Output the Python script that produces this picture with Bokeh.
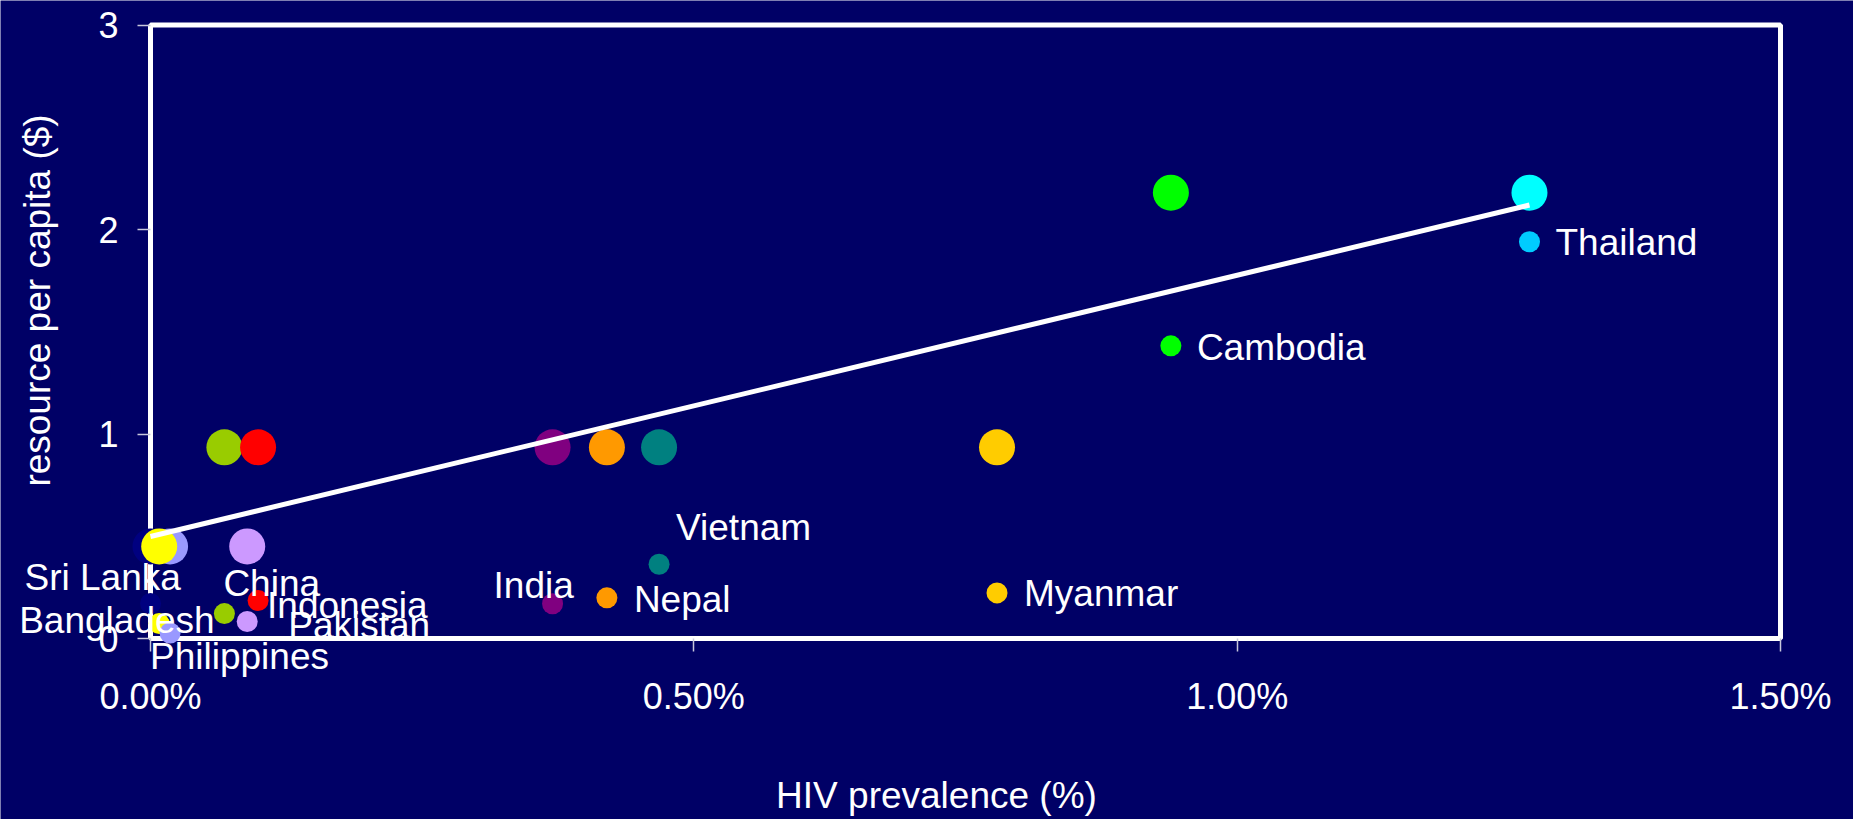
import math

import numpy as np
from bokeh.core.properties import value
from bokeh.embed import file_html
from bokeh.models import (ColumnDataSource, FixedTicker, LabelSet,
                          PrintfTickFormatter, Range1d)
from bokeh.plotting import figure
from bokeh.resources import INLINE

# --- data -------------------------------------------------------------
countries = ["Sri Lanka", "Philippines", "Bangladesh", "China", "Indonesia",
             "Pakistan", "India", "Nepal", "Vietnam", "Myanmar",
             "Cambodia", "Thailand"]
# HIV prevalence (%)
prevalence = [0.000, 0.018, 0.008, 0.068, 0.099, 0.089,
              0.370, 0.420, 0.468, 0.779, 0.939, 1.269]
# resource per capita ($), actual
resource = [0.171, 0.027, 0.073, 0.122, 0.186, 0.083,
            0.170, 0.199, 0.363, 0.223, 1.431, 1.940]
# resource per capita ($), grouped level
resource_level = [0.45, 0.45, 0.45, 0.935, 0.935, 0.45,
                  0.935, 0.935, 0.935, 0.935, 2.18, 2.18]

x_ticks = [0.0, 0.5, 1.0, 1.5]
y_ticks = [0, 1, 2, 3]

x_title = "HIV prevalence (%)"
y_title = "resource per capita ($)"

# --- styling ----------------------------------------------------------
BG = "#000066"
FONT = "Liberation Sans"
level_colors = ["#000080", "#9999FF", "#FFFF00", "#99CC00", "#FF0000",
                "#CC99FF", "#800080", "#FF9900", "#008080", "#FFCC00",
                "#00FF00", "#00FFFF"]
point_colors = ["#000080", "#9999FF", "#FFFF00", "#99CC00", "#FF0000",
                "#CC99FF", "#800080", "#FF9900", "#008080", "#FFCC00",
                "#00FF00", "#00CCFF"]
# label placement relative to each point (screen px: left edge, centre line)
label_dx = [-126, -20, -140, -1, 9, 41, -59, 27, 17, 27, 26, 26]
label_dy = [26, -24, 3, 30, -5, -4, 18, -2, 37, -1, -2, -1]

# The frame spans the whole canvas; the ranges are padded so that the
# plotted box (0..1.5 %, 0..3 $) sits with room for ticks and titles.
W, H = 1853, 819
BOX_LEFT, BOX_RIGHT, BOX_TOP, BOX_BOTTOM = 150, 1780, 24.5, 638
px_x = (BOX_RIGHT - BOX_LEFT) / (x_ticks[-1] - x_ticks[0])
px_y = (BOX_BOTTOM - BOX_TOP) / (y_ticks[-1] - y_ticks[0])
x_range = Range1d(x_ticks[0] - BOX_LEFT / px_x,
                  x_ticks[-1] + (W - BOX_RIGHT) / px_x)
y_range = Range1d(y_ticks[0] - (H - BOX_BOTTOM) / px_y,
                  y_ticks[-1] + BOX_TOP / px_y)

p = figure(width=W, height=H, x_range=x_range, y_range=y_range,
           output_backend="svg", toolbar_location=None,
           min_border=0, min_border_left=0, min_border_right=0,
           min_border_top=0, min_border_bottom=0,
           background_fill_color=BG, border_fill_color=BG,
           outline_line_color=None)
p.grid.visible = False

for ax in (p.xaxis, p.yaxis):
    ax.axis_line_color = None
    ax.major_tick_line_color = "#C8C8DC"
    ax.major_tick_line_width = 1.5
    ax.major_tick_in = 0
    ax.major_tick_out = 13
    ax.minor_tick_line_color = None
    ax.major_label_text_color = "white"
    ax.major_label_text_font = FONT
    ax.major_label_text_font_size = "36px"

p.xaxis.fixed_location = y_ticks[0]
p.xaxis.ticker = FixedTicker(ticks=x_ticks)
p.xaxis.formatter = PrintfTickFormatter(format="%.2f%%")
p.xaxis.major_label_standoff = 24
p.yaxis.fixed_location = x_ticks[0]
p.yaxis.ticker = FixedTicker(ticks=y_ticks)
p.yaxis.major_label_standoff = 19

# plot area border
p.quad(left=x_ticks[0], right=x_ticks[-1], bottom=y_ticks[0],
       top=y_ticks[-1], fill_color=None, line_color="white", line_width=5)

level_src = ColumnDataSource(dict(x=prevalence, y=resource_level,
                                  c=level_colors))
point_src = ColumnDataSource(dict(x=prevalence[::-1], y=resource[::-1],
                                  c=point_colors[::-1]))
label_src = ColumnDataSource(dict(x=prevalence, y=resource, name=countries,
                                  dx=label_dx, dy=label_dy))

p.scatter("x", "y", source=level_src, size=36, fill_color="c",
          line_color=None)

# linear trend of the grouped level
slope, intercept = np.polyfit(prevalence, resource_level, 1)
trend_x = np.array([min(prevalence), max(prevalence)])
p.line(trend_x, intercept + slope * trend_x, line_color="white",
       line_width=5)

p.scatter("x", "y", source=point_src, size=21, fill_color="c",
          line_color=None)

p.add_layout(LabelSet(x="x", y="y", text="name", source=label_src,
                      x_offset="dx", y_offset="dy",
                      text_align="left", text_baseline="middle",
                      text_color="white", text_font=value(FONT),
                      text_font_size="37px"))

# axis titles, placed in the margins below and left of the box
title_src = ColumnDataSource(dict(
    x=[(936 - BOX_LEFT) / px_x, (37 - BOX_LEFT) / px_x],
    y=[(BOX_BOTTOM - 795) / px_y, (BOX_BOTTOM - 300) / px_y],
    text=[x_title, y_title],
    angle=[0, math.pi / 2],
))
p.add_layout(LabelSet(x="x", y="y", text="text", angle="angle",
                      source=title_src, text_align="center",
                      text_baseline="middle", text_color="white",
                      text_font=value(FONT), text_font_size="37px"))

open("out.html", "w").write(file_html(p, INLINE))
